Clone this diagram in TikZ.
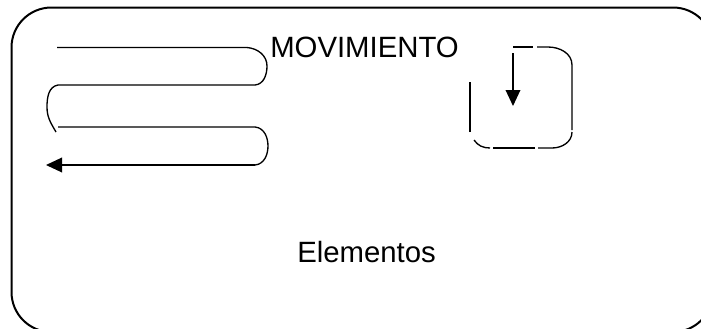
\documentclass[tikz,border=0pt]{standalone}
\usepackage{fontspec}
\setmainfont{Liberation Sans}
\usetikzlibrary{arrows.meta}
\begin{document}
\begin{tikzpicture}[x=0.75pt,y=-0.75pt,
  frame/.style={line width=1.5pt,rounded corners=30pt},
  stroke/.style={line width=1pt},
  tipped/.style={stroke,-{Triangle[length=12pt,width=11pt]}},
  label/.style={inner sep=0pt,anchor=base west,font=\fontsize{22pt}{26pt}\selectfont}]
\useasboundingbox (0,0) rectangle (701,329);
\clip (0,0) rectangle (701,329);
% outer card, partly running off the page
\draw[frame] (11.5,7.5) rectangle (713,332);
% captions
\node[label] (mov) at (270,57) {MOVIMIENTO};
\node[label] (elem) at (297,262) {Elementos};
% back-and-forth path
\draw[stroke] (57,47.5) -- (247,47.5)
  to[out=-5,in=90] (267,66) to[out=-90,in=5] (255,85) -- (58,85);
\draw[stroke] (58,85) to[out=190,in=90] (47,107) to[out=-90,in=120] (56,132);
\draw[stroke] (58,127) -- (255,127)
  to[out=-5,in=90] (268,146) to[out=-90,in=5] (255,165);
\coordinate (turn) at (255,165);
\coordinate (end) at (46,165);
\draw[tipped] (turn) -- (end);
% dashed loop with downward arrow
\draw[stroke] (513,47) -- (533,47);
\draw[stroke] (537,47) -- (548,47) to[out=0,in=90] (572,65) -- (572,130);
\draw[stroke] (572,132) to[out=-90,in=0] (552,148) -- (538,148);
\draw[stroke] (535,148) -- (493,148);
\draw[stroke] (490,148) to[out=180,in=-55] (474,140);
\draw[stroke] (470,132) -- (470,82);
\coordinate (drop) at (513,53);
\coordinate (land) at (513,106);
\draw[tipped] (drop) -- (land);
\end{tikzpicture}
\end{document}
